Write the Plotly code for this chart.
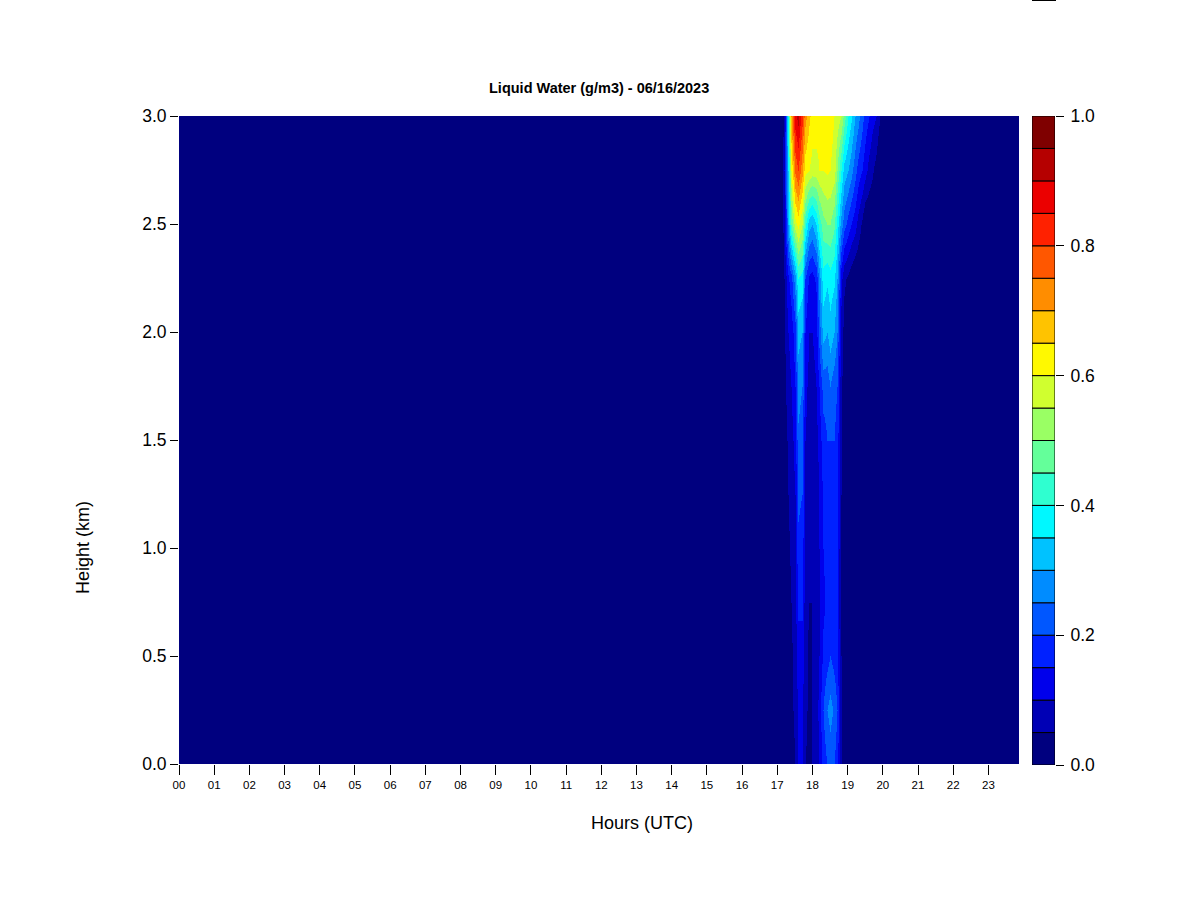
import plotly.graph_objects as go

# ---------------- data ----------------
title_text = "Liquid Water (g/m3) - 06/16/2023"
x_title = "Hours (UTC)"
y_title = "Height (km)"

hour_ticks = list(range(0, 24))
hour_labels = ["%02d" % h for h in hour_ticks]
height_ticks = [0.0, 0.5, 1.0, 1.5, 2.0, 2.5, 3.0]
height_labels = ["0.0", "0.5", "1.0", "1.5", "2.0", "2.5", "3.0"]
cbar_ticks = [0.0, 0.2, 0.4, 0.6, 0.8, 1.0]
cbar_labels = ["0.0", "0.2", "0.4", "0.6", "0.8", "1.0"]

day_start = 0.0
day_end = 23.87

# times (UTC hours) of the active period
times_active = [17.0, 17.1, 17.2, 17.3, 17.4, 17.5, 17.6, 17.7, 17.8, 17.9,
                18.0, 18.1, 18.2, 18.3, 18.4, 18.5, 18.6, 18.7, 18.8, 18.9,
                19.0, 19.1, 19.2, 19.3, 19.4, 19.5, 19.6, 19.7, 19.8, 19.9, 20.0]

heights = [0.0, 0.25, 0.5, 0.75, 1.0, 1.25, 1.5, 1.75, 2.0, 2.25, 2.5, 2.75, 3.0]

# liquid water (g/m3), one row per height (bottom to top), one value per active time
lw_000 = [0, 0, 0.01, 0.02, 0.03, 0.05, 0.10, 0.10, 0.05, 0.04, 0.05, 0.06, 0.10, 0.17, 0.20, 0.22, 0.20, 0.17, 0.05, 0.01, 0, 0, 0, 0, 0, 0, 0, 0, 0, 0, 0]
lw_025 = [0, 0, 0.01, 0.02, 0.04, 0.06, 0.11, 0.11, 0.06, 0.04, 0.05, 0.07, 0.12, 0.20, 0.25, 0.27, 0.24, 0.20, 0.06, 0.02, 0, 0, 0, 0, 0, 0, 0, 0, 0, 0, 0]
lw_050 = [0, 0, 0.01, 0.03, 0.04, 0.07, 0.13, 0.13, 0.06, 0.04, 0.05, 0.06, 0.10, 0.16, 0.18, 0.20, 0.18, 0.16, 0.05, 0.01, 0, 0, 0, 0, 0, 0, 0, 0, 0, 0, 0]
lw_075 = [0, 0, 0.01, 0.03, 0.05, 0.08, 0.16, 0.16, 0.07, 0.05, 0.05, 0.06, 0.09, 0.14, 0.16, 0.17, 0.16, 0.15, 0.04, 0.01, 0, 0, 0, 0, 0, 0, 0, 0, 0, 0, 0]
lw_100 = [0, 0, 0.02, 0.04, 0.06, 0.09, 0.19, 0.18, 0.08, 0.05, 0.06, 0.07, 0.10, 0.15, 0.17, 0.17, 0.17, 0.16, 0.04, 0.01, 0, 0, 0, 0, 0, 0, 0, 0, 0, 0, 0]
lw_125 = [0, 0, 0.02, 0.05, 0.07, 0.10, 0.21, 0.20, 0.09, 0.06, 0.06, 0.07, 0.10, 0.16, 0.18, 0.18, 0.18, 0.17, 0.05, 0.02, 0, 0, 0, 0, 0, 0, 0, 0, 0, 0, 0]
lw_150 = [0, 0, 0.02, 0.06, 0.08, 0.12, 0.24, 0.22, 0.10, 0.07, 0.07, 0.08, 0.12, 0.18, 0.20, 0.20, 0.20, 0.18, 0.05, 0.02, 0, 0, 0, 0, 0, 0, 0, 0, 0, 0, 0]
lw_175 = [0, 0, 0.03, 0.08, 0.10, 0.15, 0.27, 0.25, 0.12, 0.08, 0.08, 0.10, 0.15, 0.22, 0.22, 0.25, 0.22, 0.20, 0.06, 0.02, 0, 0, 0, 0, 0, 0, 0, 0, 0, 0, 0]
lw_200 = [0, 0, 0.04, 0.10, 0.12, 0.18, 0.32, 0.30, 0.15, 0.10, 0.10, 0.12, 0.22, 0.32, 0.30, 0.33, 0.30, 0.25, 0.08, 0.03, 0, 0, 0, 0, 0, 0, 0, 0, 0, 0, 0]
lw_225 = [0, 0, 0.05, 0.14, 0.18, 0.28, 0.40, 0.38, 0.20, 0.14, 0.13, 0.16, 0.27, 0.38, 0.36, 0.38, 0.36, 0.30, 0.12, 0.06, 0.04, 0.02, 0, 0, 0, 0, 0, 0, 0, 0, 0]
lw_250 = [0, 0, 0.08, 0.30, 0.45, 0.58, 0.62, 0.55, 0.42, 0.32, 0.30, 0.35, 0.42, 0.48, 0.50, 0.50, 0.46, 0.38, 0.28, 0.22, 0.18, 0.15, 0.12, 0.08, 0.04, 0, 0, 0, 0, 0, 0]
lw_275 = [0, 0, 0.10, 0.35, 0.60, 0.76, 0.80, 0.72, 0.62, 0.60, 0.58, 0.58, 0.60, 0.60, 0.61, 0.60, 0.58, 0.50, 0.40, 0.33, 0.30, 0.27, 0.22, 0.18, 0.15, 0.12, 0.08, 0.06, 0.03, 0, 0]
lw_300 = [0, 0, 0.06, 0.40, 0.70, 0.88, 0.92, 0.82, 0.72, 0.66, 0.63, 0.63, 0.62, 0.62, 0.60, 0.62, 0.60, 0.58, 0.55, 0.48, 0.40, 0.36, 0.30, 0.27, 0.22, 0.18, 0.15, 0.12, 0.10, 0.06, 0]

# 20 contour levels (0.05 g/m3 each) and their colours
levels = [0.00, 0.05, 0.10, 0.15, 0.20, 0.25, 0.30, 0.35, 0.40, 0.45,
          0.50, 0.55, 0.60, 0.65, 0.70, 0.75, 0.80, 0.85, 0.90, 0.95]
level_colors = ["#00007F", "#0000B5", "#0000EB", "#0021FF", "#0057FF",
                "#008CFF", "#00C2FF", "#00F8FF", "#2FFFD0", "#64FF9A",
                "#9AFF64", "#D0FF2F", "#FFF900", "#FFC300", "#FF8D00",
                "#FF5700", "#FF2100", "#EB0000", "#B50000", "#7F0000"]
level_step = 0.05

# ---------------- figure ----------------
W, H = 1200, 900
rows = [lw_000, lw_025, lw_050, lw_075, lw_100, lw_125, lw_150,
        lw_175, lw_200, lw_225, lw_250, lw_275, lw_300]
x_all = [day_start] + times_active + [day_end]
z_all = [[0.0] + r + [0.0] for r in rows]

colorscale = []
for i, c in enumerate(level_colors):
    lo = round(levels[i], 6)
    hi = round(min(levels[i] + level_step, 1.0), 6)
    colorscale.append([lo, c])
    colorscale.append([hi, c])

# plot box in pixels
px_l, px_r, px_t, px_b = 179, 1019, 116, 764
cb_l, cb_r = 1032, 1055

def fx(p):
    return p / W

def fy(p):
    return 1 - p / H

fig = go.Figure()
fig.add_trace(go.Heatmap(
    x=x_all, y=heights, z=z_all,
    zmin=0, zmax=1, colorscale=colorscale, zsmooth="best",
    showscale=False, hoverinfo="skip",
    xaxis="x", yaxis="y"))

fig.add_trace(go.Bar(
    x=[0] * len(levels), y=[level_step] * len(levels), base=levels,
    width=1, marker=dict(color=level_colors, line=dict(color="black", width=1)),
    xaxis="x2", yaxis="y2", hoverinfo="skip", showlegend=False))

font_family = "Liberation Sans, Arial, sans-serif"

fig.update_layout(
    template="none",
    width=W, height=H,
    margin=dict(l=0, r=0, t=0, b=0, pad=0, autoexpand=False),
    paper_bgcolor="white", plot_bgcolor="white",
    showlegend=False,
    barmode="overlay",
    font=dict(family=font_family, color="black"),
    xaxis=dict(domain=[fx(px_l), fx(px_r)], range=[day_start, day_end],
               tickmode="array", tickvals=hour_ticks, ticktext=hour_labels,
               ticks="outside", ticklen=10, tickcolor="black", tickwidth=1,
               tickfont=dict(size=11.5, color="black"), automargin=False,
               showgrid=False, zeroline=False, showline=False, anchor="y"),
    yaxis=dict(domain=[fy(px_b), fy(px_t)], range=[0, 3],
               tickmode="array", tickvals=height_ticks, ticktext=height_labels,
               ticks="outside", ticklen=8, tickcolor="black", tickwidth=1,
               tickfont=dict(size=17.5, color="black"), automargin=False,
               showgrid=False, zeroline=False, showline=False, anchor="x"),
    xaxis2=dict(domain=[fx(cb_l), fx(cb_r)], range=[-0.5, 0.5],
                showticklabels=False, ticks="", showgrid=False, zeroline=False,
                showline=False, anchor="y2", automargin=False),
    yaxis2=dict(domain=[fy(px_b + 1), fy(px_t)], range=[0, 1], side="right",
                tickmode="array", tickvals=cbar_ticks, ticktext=cbar_labels,
                ticks="outside", ticklen=8, tickcolor="black", tickwidth=1,
                ticklabelstandoff=3,
                tickfont=dict(size=17.5, color="black"), automargin=False,
                showgrid=False, zeroline=False, showline=False, anchor="x2"),
)

fig.add_annotation(text="<b>" + title_text + "</b>", x=fx(599), y=fy(88),
                   xref="paper", yref="paper", showarrow=False,
                   xanchor="center", yanchor="middle",
                   font=dict(size=14.5, family=font_family, color="black"))
fig.add_annotation(text=x_title, x=fx(642), y=fy(823),
                   xref="paper", yref="paper", showarrow=False,
                   xanchor="center", yanchor="middle",
                   font=dict(size=18, family=font_family, color="black"))
fig.add_annotation(text=y_title, x=fx(83), y=fy(548), textangle=-90,
                   xref="paper", yref="paper", showarrow=False,
                   xanchor="center", yanchor="middle",
                   font=dict(size=18, family=font_family, color="black"))
fig.add_shape(type="line", xref="paper", yref="paper",
              x0=fx(cb_l), x1=fx(cb_r + 1), y0=fy(0.5), y1=fy(0.5),
              line=dict(color="black", width=1))

fig.write_html("out.html",
               config={"displayModeBar": False},
               post_script="document.body.style.margin='0';document.body.style.overflow='hidden';")
